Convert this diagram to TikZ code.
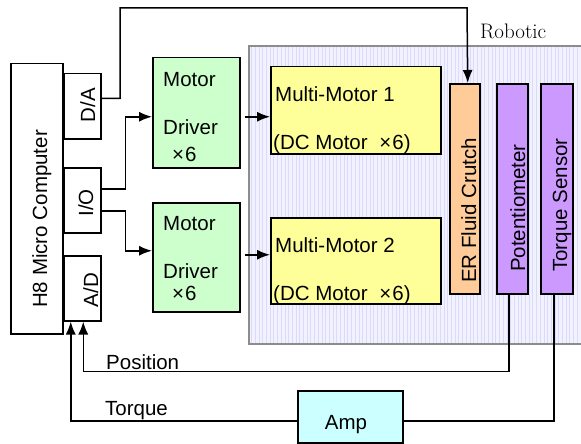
\documentclass[tikz,border=0pt]{standalone}
\usepackage{fontspec}
\newfontfamily\arial{Liberation Sans}
\usetikzlibrary{arrows.meta}
\definecolor{drvgreen}{HTML}{CCFFCC}
\definecolor{mmyellow}{HTML}{FFFF99}
\definecolor{erorange}{HTML}{FFCC99}
\definecolor{sensviolet}{HTML}{CC99FF}
\definecolor{ampcyan}{HTML}{CCFFFF}
\definecolor{regionbg}{HTML}{F2F2FF}
\definecolor{regiongrid}{HTML}{DADAFC}
\definecolor{regionedge}{HTML}{8C8C8C}
\begin{document}
\begin{tikzpicture}[x=1pt,y=-1pt,
  box/.style={draw=black, line width=1.5pt, inner sep=0pt, anchor=north west},
  txt/.style={font=\arial\fontsize{20.5}{24}\selectfont, inner sep=0pt},
  vtxt/.style={txt, rotate=90},
  wire/.style={line width=1.5pt},
  arr/.style={wire, -{Latex[length=13pt,width=10pt]}}]
\useasboundingbox (0,0) rectangle (581,444);
% robotic region
\begin{scope}
\clip (249,46) rectangle (581,344);
\fill[regionbg] (249,46) rectangle (581,344);
\draw[regiongrid, line width=0.7pt, step=3.7] (249,46) grid (585,344);
\end{scope}
\draw[regionedge, line width=2.2pt] (585,46) -- (249,46) -- (249,344) -- (585,344);
\node[inner sep=0pt, anchor=base west, font=\fontsize{21}{24}\selectfont] (robotic) at (480,39) {Robotic};
% computer
\node[box, minimum width=52pt, minimum height=270pt] (h8) at (10,63) {};
\node[vtxt, anchor=base west] (h8t) at (47,308) {H8 Micro Computer};
\node[box, minimum width=37pt, minimum height=65pt] (da) at (63,73) {};
\node[vtxt, anchor=base] (dat) at (95,105) {D/A};
\node[box, minimum width=37pt, minimum height=65pt] (io) at (63,167) {};
\node[vtxt, anchor=base] (iot) at (93,203) {I/O};
\node[box, minimum width=37pt, minimum height=65pt] (ad) at (63,255) {};
\node[vtxt, anchor=base] (adt) at (98,290) {A/D};
% drivers
\node[box, fill=drvgreen, minimum width=87pt, minimum height=110pt] (drv1) at (152,57) {};
\node[txt, anchor=base west] (drv1a) at (163,87) {Motor};
\node[txt, anchor=base west] (drv1b) at (163,134) {Driver};
\node[txt, anchor=base west] (drv1c) at (172,161) {×\kern1pt 6};
\node[box, fill=drvgreen, minimum width=87pt, minimum height=109pt] (drv2) at (152,202) {};
\node[txt, anchor=base west] (drv2a) at (163,230) {Motor};
\node[txt, anchor=base west] (drv2b) at (163,278) {Driver};
\node[txt, anchor=base west] (drv2c) at (172,300) {×\kern1pt 6};
% multi motors
\node[box, fill=mmyellow, minimum width=170pt, minimum height=87pt] (mm1) at (270,66) {};
\node[txt, anchor=base west] (mm1a) at (275,102) {Multi-Motor 1};
\node[txt, anchor=base west] (mm1b) at (273,149) {(DC Motor \kern6pt×\kern1pt 6)};
\node[box, fill=mmyellow, minimum width=170pt, minimum height=86pt] (mm2) at (270,217) {};
\node[txt, anchor=base west] (mm2a) at (275,252) {Multi-Motor 2};
\node[txt, anchor=base west] (mm2b) at (273,300) {(DC Motor \kern6pt×\kern1pt 6)};
% vertical devices
\node[box, fill=erorange, minimum width=30pt, minimum height=210pt] (er) at (449,83) {};
\node[vtxt, anchor=base west] (ert) at (476,283) {ER Fluid Crutch};
\node[box, fill=sensviolet, minimum width=31pt, minimum height=210pt] (pot) at (496,83) {};
\node[vtxt, anchor=base west] (pott) at (525,272) {Potentiometer};
\node[box, fill=sensviolet, minimum width=32pt, minimum height=210pt] (tor) at (540,83) {};
\node[vtxt, anchor=base west] (tort) at (567,272) {Torque Sensor};
% amp
\node[box, fill=ampcyan, minimum width=105pt, minimum height=52pt] (amp) at (297,390) {};
\node[txt, anchor=base] (ampt) at (346,429) {Amp};
% connectors
\coordinate (datop) at (120,8);
\coordinate (ertop) at (467,8);
\draw[arr] ([yshift=8pt]da.east) -| (datop) -- (ertop) -- ([xshift=3pt]er.north);
\draw[arr] ([yshift=11.5pt]io.east) -- ++(24,0) |- ([yshift=-4pt]drv1.west);
\draw[arr] ([yshift=-10.5pt]io.east) -- ++(24,0) |- ([yshift=6.5pt]drv2.west);
\draw[arr] ([shift={(4pt,-4pt)}]drv1.east) -- ([yshift=-4pt]drv1.east -| mm1.west);
\draw[arr] ([shift={(4pt,2.5pt)}]drv2.east) -- ([yshift=2.5pt]drv2.east -| mm2.west);
\draw[arr] ([xshift=-3.5pt]pot.south) -- ++(0,77) -| ([xshift=1pt]ad.south);
\node[txt, anchor=base west] (post) at (106,369) {Position};
\draw[wire] ([xshift=-3pt]tor.south) |- ([yshift=-4pt]amp.east);
\draw[arr] ([yshift=-4pt]amp.west) -| ([xshift=-11.5pt]ad.south);
\node[txt, anchor=base west] (tqt) at (105,415) {Torque};
\end{tikzpicture}
\end{document}
